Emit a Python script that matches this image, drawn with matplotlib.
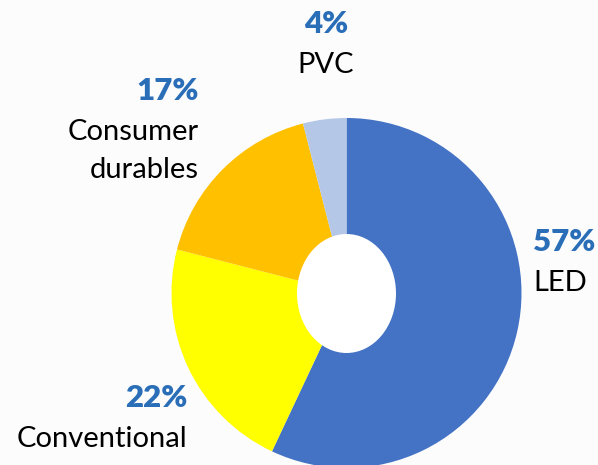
import matplotlib.pyplot as plt
from matplotlib.patches import Ellipse

categories = ["LED", "Conventional", "Consumer\ndurables", "PVC"]
shares = [57, 22, 17, 4]
colors = ["#4472C4", "#FFFF00", "#FFC000", "#B4C7E7"]

# label anchor positions in pixels (x, y from top), alignment
label_pos = [(533, 242, "left"), (187, 398, "right"), (199, 91, "right"), (326, 24, "center")]

W, H = 598, 465
fig = plt.figure(figsize=(W / 100, H / 100), dpi=100)
fig.patch.set_facecolor("#FCFCFC")
ax = fig.add_axes([0, 0, 1, 1])

cx, cy, r = 346.5, H - 293, 175
ax.pie(shares, colors=colors, startangle=90, counterclock=False,
       center=(cx, cy), radius=r, frame=True,
       wedgeprops=dict(linewidth=0))
ax.set_xlim(0, W)
ax.set_ylim(0, H)
ax.set_aspect("equal")
ax.axis("off")

# white elliptical hole
ax.add_patch(Ellipse((cx, H - 293.5), 99, 119, facecolor="white", edgecolor="none", zorder=5))

for name, val, (x, y, ha) in zip(categories, shares, label_pos):
    ax.text(x, H - y, f"{val}%", ha=ha, va="center", fontsize=22.5,
            fontweight="heavy", color="#2A6EB8", family="Lato")
    ax.text(x, H - y - 28, name, ha=ha, va="top", fontsize=21,
            color="black", family="Lato", linespacing=1.55)

fig.savefig("out.png", dpi=100, facecolor=fig.get_facecolor())
